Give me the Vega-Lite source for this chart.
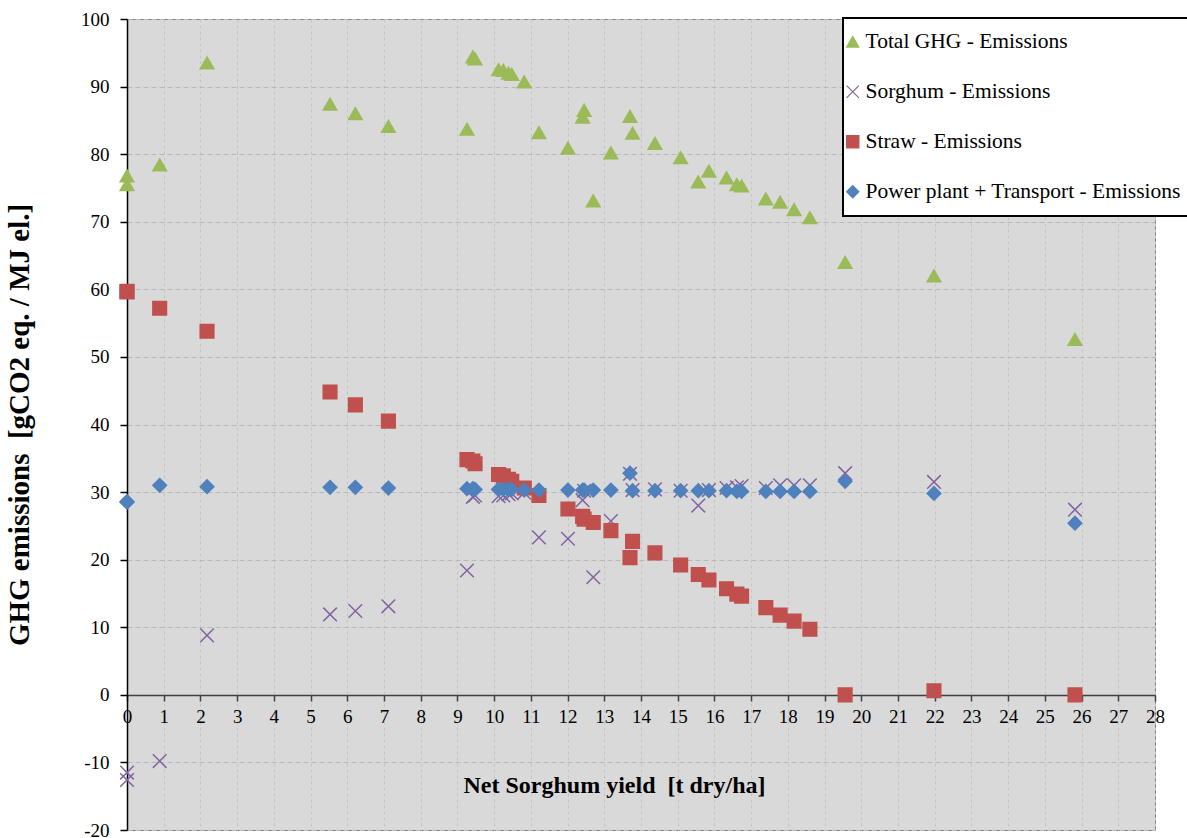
{
  "$schema": "https://vega.github.io/schema/vega-lite/v6.json",
  "width": 1028,
  "height": 811,
  "autosize": {"type": "none"},
  "padding": {"left": 127, "top": 19, "right": 32, "bottom": 8},
  "background": "white",
  "config": {
    "view": {"fill": "#D9D9D9", "stroke": "#808080", "strokeWidth": 1},
    "font": "Liberation Serif",
    "legend": {"strokeWidth": 2}
  },
  "data": {"values": [
    {"yield":0,"series":"Total GHG - Emissions","emissions":76.8},
    {"yield":0,"series":"Total GHG - Emissions","emissions":75.5},
    {"yield":0.89,"series":"Total GHG - Emissions","emissions":78.4},
    {"yield":2.18,"series":"Total GHG - Emissions","emissions":93.5},
    {"yield":5.53,"series":"Total GHG - Emissions","emissions":87.4},
    {"yield":6.22,"series":"Total GHG - Emissions","emissions":86.0},
    {"yield":7.12,"series":"Total GHG - Emissions","emissions":84.1},
    {"yield":9.26,"series":"Total GHG - Emissions","emissions":83.7},
    {"yield":9.42,"series":"Total GHG - Emissions","emissions":94.4},
    {"yield":9.48,"series":"Total GHG - Emissions","emissions":94.1},
    {"yield":10.12,"series":"Total GHG - Emissions","emissions":92.5},
    {"yield":10.25,"series":"Total GHG - Emissions","emissions":92.4},
    {"yield":10.39,"series":"Total GHG - Emissions","emissions":92.0},
    {"yield":10.48,"series":"Total GHG - Emissions","emissions":91.8},
    {"yield":10.82,"series":"Total GHG - Emissions","emissions":90.7},
    {"yield":11.22,"series":"Total GHG - Emissions","emissions":83.2},
    {"yield":12.01,"series":"Total GHG - Emissions","emissions":80.9},
    {"yield":12.41,"series":"Total GHG - Emissions","emissions":85.5},
    {"yield":12.45,"series":"Total GHG - Emissions","emissions":86.5},
    {"yield":12.70,"series":"Total GHG - Emissions","emissions":73.1},
    {"yield":13.18,"series":"Total GHG - Emissions","emissions":80.2},
    {"yield":13.70,"series":"Total GHG - Emissions","emissions":85.6},
    {"yield":13.77,"series":"Total GHG - Emissions","emissions":83.1},
    {"yield":14.38,"series":"Total GHG - Emissions","emissions":81.6},
    {"yield":15.08,"series":"Total GHG - Emissions","emissions":79.5},
    {"yield":15.56,"series":"Total GHG - Emissions","emissions":75.9},
    {"yield":15.85,"series":"Total GHG - Emissions","emissions":77.5},
    {"yield":16.33,"series":"Total GHG - Emissions","emissions":76.5},
    {"yield":16.61,"series":"Total GHG - Emissions","emissions":75.5},
    {"yield":16.74,"series":"Total GHG - Emissions","emissions":75.3},
    {"yield":17.40,"series":"Total GHG - Emissions","emissions":73.4},
    {"yield":17.79,"series":"Total GHG - Emissions","emissions":72.9},
    {"yield":18.17,"series":"Total GHG - Emissions","emissions":71.8},
    {"yield":18.60,"series":"Total GHG - Emissions","emissions":70.6},
    {"yield":19.56,"series":"Total GHG - Emissions","emissions":64.0},
    {"yield":21.98,"series":"Total GHG - Emissions","emissions":62.0},
    {"yield":25.82,"series":"Total GHG - Emissions","emissions":52.6},

    {"yield":0,"series":"Sorghum - Emissions","emissions":-11.5},
    {"yield":0,"series":"Sorghum - Emissions","emissions":-12.6},
    {"yield":0.89,"series":"Sorghum - Emissions","emissions":-9.8},
    {"yield":2.18,"series":"Sorghum - Emissions","emissions":8.8},
    {"yield":5.53,"series":"Sorghum - Emissions","emissions":11.9},
    {"yield":6.22,"series":"Sorghum - Emissions","emissions":12.4},
    {"yield":7.12,"series":"Sorghum - Emissions","emissions":13.1},
    {"yield":9.26,"series":"Sorghum - Emissions","emissions":18.4},
    {"yield":9.42,"series":"Sorghum - Emissions","emissions":29.3},
    {"yield":9.48,"series":"Sorghum - Emissions","emissions":29.5},
    {"yield":10.12,"series":"Sorghum - Emissions","emissions":29.4},
    {"yield":10.25,"series":"Sorghum - Emissions","emissions":29.5},
    {"yield":10.39,"series":"Sorghum - Emissions","emissions":29.7},
    {"yield":10.48,"series":"Sorghum - Emissions","emissions":29.8},
    {"yield":10.82,"series":"Sorghum - Emissions","emissions":29.9},
    {"yield":11.22,"series":"Sorghum - Emissions","emissions":23.3},
    {"yield":12.01,"series":"Sorghum - Emissions","emissions":23.1},
    {"yield":12.41,"series":"Sorghum - Emissions","emissions":28.8},
    {"yield":12.45,"series":"Sorghum - Emissions","emissions":30.2},
    {"yield":12.70,"series":"Sorghum - Emissions","emissions":17.4},
    {"yield":13.18,"series":"Sorghum - Emissions","emissions":25.7},
    {"yield":13.70,"series":"Sorghum - Emissions","emissions":32.7},
    {"yield":13.77,"series":"Sorghum - Emissions","emissions":30.3},
    {"yield":14.38,"series":"Sorghum - Emissions","emissions":30.4},
    {"yield":15.08,"series":"Sorghum - Emissions","emissions":30.2},
    {"yield":15.56,"series":"Sorghum - Emissions","emissions":28.0},
    {"yield":15.85,"series":"Sorghum - Emissions","emissions":30.3},
    {"yield":16.33,"series":"Sorghum - Emissions","emissions":30.6},
    {"yield":16.61,"series":"Sorghum - Emissions","emissions":30.7},
    {"yield":16.74,"series":"Sorghum - Emissions","emissions":30.9},
    {"yield":17.40,"series":"Sorghum - Emissions","emissions":30.6},
    {"yield":17.79,"series":"Sorghum - Emissions","emissions":31.0},
    {"yield":18.17,"series":"Sorghum - Emissions","emissions":31.0},
    {"yield":18.60,"series":"Sorghum - Emissions","emissions":31.0},
    {"yield":19.56,"series":"Sorghum - Emissions","emissions":32.8},
    {"yield":21.98,"series":"Sorghum - Emissions","emissions":31.5},
    {"yield":25.82,"series":"Sorghum - Emissions","emissions":27.4},

    {"yield":0,"series":"Straw - Emissions","emissions":59.7},
    {"yield":0,"series":"Straw - Emissions","emissions":59.6},
    {"yield":0.89,"series":"Straw - Emissions","emissions":57.2},
    {"yield":2.18,"series":"Straw - Emissions","emissions":53.8},
    {"yield":5.53,"series":"Straw - Emissions","emissions":44.8},
    {"yield":6.22,"series":"Straw - Emissions","emissions":42.9},
    {"yield":7.12,"series":"Straw - Emissions","emissions":40.5},
    {"yield":9.26,"series":"Straw - Emissions","emissions":34.8},
    {"yield":9.42,"series":"Straw - Emissions","emissions":34.6},
    {"yield":9.48,"series":"Straw - Emissions","emissions":34.2},
    {"yield":10.12,"series":"Straw - Emissions","emissions":32.6},
    {"yield":10.25,"series":"Straw - Emissions","emissions":32.4},
    {"yield":10.39,"series":"Straw - Emissions","emissions":31.9},
    {"yield":10.48,"series":"Straw - Emissions","emissions":31.6},
    {"yield":10.82,"series":"Straw - Emissions","emissions":30.6},
    {"yield":11.22,"series":"Straw - Emissions","emissions":29.5},
    {"yield":12.01,"series":"Straw - Emissions","emissions":27.5},
    {"yield":12.41,"series":"Straw - Emissions","emissions":26.4},
    {"yield":12.45,"series":"Straw - Emissions","emissions":26.0},
    {"yield":12.70,"series":"Straw - Emissions","emissions":25.5},
    {"yield":13.18,"series":"Straw - Emissions","emissions":24.3},
    {"yield":13.70,"series":"Straw - Emissions","emissions":20.3},
    {"yield":13.77,"series":"Straw - Emissions","emissions":22.7},
    {"yield":14.38,"series":"Straw - Emissions","emissions":21.0},
    {"yield":15.08,"series":"Straw - Emissions","emissions":19.2},
    {"yield":15.56,"series":"Straw - Emissions","emissions":17.8},
    {"yield":15.85,"series":"Straw - Emissions","emissions":17.0},
    {"yield":16.33,"series":"Straw - Emissions","emissions":15.7},
    {"yield":16.61,"series":"Straw - Emissions","emissions":14.9},
    {"yield":16.74,"series":"Straw - Emissions","emissions":14.6},
    {"yield":17.40,"series":"Straw - Emissions","emissions":12.9},
    {"yield":17.79,"series":"Straw - Emissions","emissions":11.8},
    {"yield":18.17,"series":"Straw - Emissions","emissions":10.9},
    {"yield":18.60,"series":"Straw - Emissions","emissions":9.7},
    {"yield":19.56,"series":"Straw - Emissions","emissions":0.0},
    {"yield":21.98,"series":"Straw - Emissions","emissions":0.6},
    {"yield":25.82,"series":"Straw - Emissions","emissions":0.0},

    {"yield":0,"series":"Power plant + Transport - Emissions","emissions":28.6},
    {"yield":0,"series":"Power plant + Transport - Emissions","emissions":28.5},
    {"yield":0.89,"series":"Power plant + Transport - Emissions","emissions":31.0},
    {"yield":2.18,"series":"Power plant + Transport - Emissions","emissions":30.8},
    {"yield":5.53,"series":"Power plant + Transport - Emissions","emissions":30.7},
    {"yield":6.22,"series":"Power plant + Transport - Emissions","emissions":30.7},
    {"yield":7.12,"series":"Power plant + Transport - Emissions","emissions":30.6},
    {"yield":9.26,"series":"Power plant + Transport - Emissions","emissions":30.5},
    {"yield":9.42,"series":"Power plant + Transport - Emissions","emissions":30.5},
    {"yield":9.48,"series":"Power plant + Transport - Emissions","emissions":30.4},
    {"yield":10.12,"series":"Power plant + Transport - Emissions","emissions":30.4},
    {"yield":10.25,"series":"Power plant + Transport - Emissions","emissions":30.4},
    {"yield":10.39,"series":"Power plant + Transport - Emissions","emissions":30.4},
    {"yield":10.48,"series":"Power plant + Transport - Emissions","emissions":30.4},
    {"yield":10.82,"series":"Power plant + Transport - Emissions","emissions":30.3},
    {"yield":11.22,"series":"Power plant + Transport - Emissions","emissions":30.3},
    {"yield":12.01,"series":"Power plant + Transport - Emissions","emissions":30.3},
    {"yield":12.41,"series":"Power plant + Transport - Emissions","emissions":30.3},
    {"yield":12.45,"series":"Power plant + Transport - Emissions","emissions":30.3},
    {"yield":12.70,"series":"Power plant + Transport - Emissions","emissions":30.3},
    {"yield":13.18,"series":"Power plant + Transport - Emissions","emissions":30.3},
    {"yield":13.70,"series":"Power plant + Transport - Emissions","emissions":32.8},
    {"yield":13.77,"series":"Power plant + Transport - Emissions","emissions":30.2},
    {"yield":14.38,"series":"Power plant + Transport - Emissions","emissions":30.2},
    {"yield":15.08,"series":"Power plant + Transport - Emissions","emissions":30.2},
    {"yield":15.56,"series":"Power plant + Transport - Emissions","emissions":30.2},
    {"yield":15.85,"series":"Power plant + Transport - Emissions","emissions":30.2},
    {"yield":16.33,"series":"Power plant + Transport - Emissions","emissions":30.2},
    {"yield":16.61,"series":"Power plant + Transport - Emissions","emissions":30.1},
    {"yield":16.74,"series":"Power plant + Transport - Emissions","emissions":30.1},
    {"yield":17.40,"series":"Power plant + Transport - Emissions","emissions":30.1},
    {"yield":17.79,"series":"Power plant + Transport - Emissions","emissions":30.1},
    {"yield":18.17,"series":"Power plant + Transport - Emissions","emissions":30.1},
    {"yield":18.60,"series":"Power plant + Transport - Emissions","emissions":30.1},
    {"yield":19.56,"series":"Power plant + Transport - Emissions","emissions":31.6},
    {"yield":21.98,"series":"Power plant + Transport - Emissions","emissions":29.8},
    {"yield":25.82,"series":"Power plant + Transport - Emissions","emissions":25.4}
  ]},
  "mark": {"type": "point", "filled": true, "opacity": 1, "strokeWidth": 1.5, "size": 185},
  "encoding": {
    "x": {
      "field": "yield", "type": "quantitative",
      "scale": {"domain": [0, 28], "nice": false, "zero": false},
      "axis": {
        "values": [0,1,2,3,4,5,6,7,8,9,10,11,12,13,14,15,16,17,18,19,20,21,22,23,24,25,26,27,28],
        "offset": -135,
        "grid": true, "gridColor": "#C4C4C4", "gridDash": [3, 3], "gridWidth": 1,
        "domainColor": "#404040", "domainWidth": 1.5,
        "tickColor": "#404040", "tickSize": 6, "tickWidth": 1.5,
        "labelFont": "Liberation Serif", "labelFontSize": 19, "labelColor": "black",
        "labelPadding": 6, "labelFlush": false, "labelOverlap": false,
        "labelExpr": "datum.value + ''",
        "title": "Net Sorghum yield \u00a0[t dry/ha]",
        "titleFont": "Liberation Serif", "titleFontSize": 24, "titleFontWeight": "bold",
        "titleColor": "black", "titlePadding": 47, "titleX": 487
      }
    },
    "y": {
      "field": "emissions", "type": "quantitative",
      "scale": {"domain": [-20, 100], "nice": false, "zero": false},
      "axis": {
        "values": [-20,-10,0,10,20,30,40,50,60,70,80,90,100],
        "grid": true, "gridColor": "#B8B8B8", "gridDash": [5, 3], "gridWidth": 1,
        "domainColor": "black", "domainWidth": 1.5,
        "tickColor": "black", "tickSize": 7, "tickWidth": 1.5,
        "labelFont": "Liberation Serif", "labelFontSize": 19, "labelColor": "black",
        "labelPadding": 11, "labelFlush": false, "labelOverlap": false,
        "labelExpr": "datum.value + ''",
        "title": "GHG emissions \u00a0[gCO2 eq. / MJ el.]",
        "titleFont": "Liberation Serif", "titleFontSize": 29, "titleFontWeight": "bold",
        "titleColor": "black", "titlePadding": 46
      }
    },
    "shape": {
      "field": "series", "type": "nominal",
      "scale": {
        "domain": ["Total GHG - Emissions", "Sorghum - Emissions", "Straw - Emissions", "Power plant + Transport - Emissions"],
        "range": ["triangle-up", "M-1,-1L1,1M-1,1L1,-1", "square", "diamond"]
      },
      "legend": {
        "title": null, "orient": "none", "legendX": 716, "legendY": -1,
        "fillColor": "white", "strokeColor": "black",
        "padding": 13, "rowPadding": 27, "symbolOffset": -14,
        "labelFont": "Liberation Serif", "labelFontSize": 21.5, "labelColor": "black",
        "labelOffset": 2, "symbolSize": 150, "symbolStrokeWidth": 1.2,
        "labelLimit": 400
      }
    },
    "fill": {
      "field": "series", "type": "nominal",
      "scale": {
        "domain": ["Total GHG - Emissions", "Sorghum - Emissions", "Straw - Emissions", "Power plant + Transport - Emissions"],
        "range": ["#9BBB59", "transparent", "#C0504D", "#4F81BD"]
      }
    },
    "stroke": {
      "field": "series", "type": "nominal",
      "scale": {
        "domain": ["Total GHG - Emissions", "Sorghum - Emissions", "Straw - Emissions", "Power plant + Transport - Emissions"],
        "range": ["#9BBB59", "#8064A2", "#C0504D", "#4F81BD"]
      }
    }
  }
}
